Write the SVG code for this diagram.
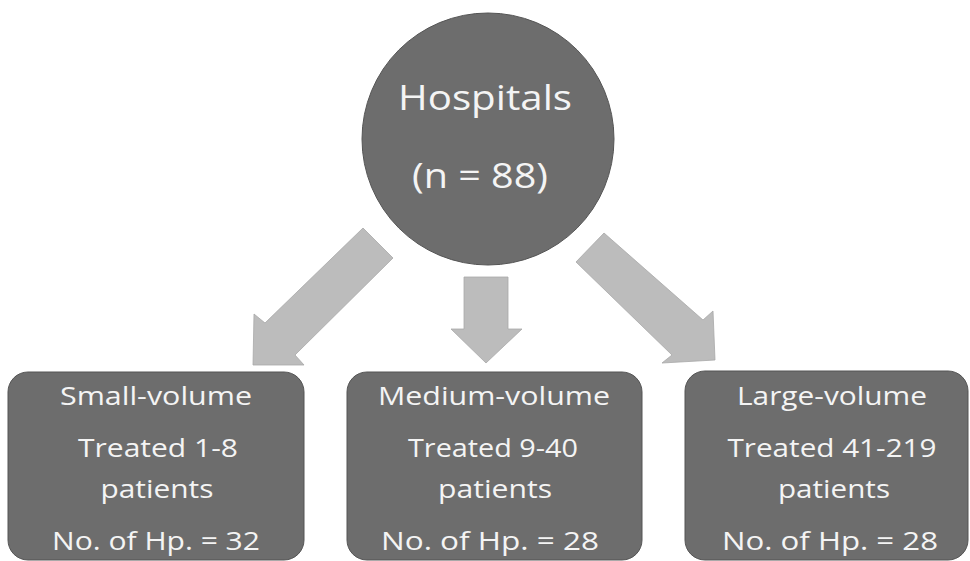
<svg xmlns="http://www.w3.org/2000/svg" width="970" height="561" viewBox="0 0 970 561">
<style>
.node{fill:#6d6d6d;stroke:#555;stroke-width:1}
.arrow{fill:#bcbcbc;stroke:#a8a8a8;stroke-width:0.8}
.t{font-family:"Open Sans","Liberation Sans",sans-serif;fill:#f4f4f4;text-anchor:middle}
.big{font-size:35px}
.sm{font-size:25px}
</style>
<rect width="970" height="561" fill="#ffffff"/>
<g id="connectors">
<polygon class="arrow" points="363,228 393,258 295,355 304,365 253,365 254,314 265,323"/>
<polygon class="arrow" points="464,277 508,277 508,329 522,329 486,363 451,329 464,329"/>
<polygon class="arrow" points="576,262 604,233 703,320 713,311 715,360 662,363 672,355"/>
</g>
<g id="hospitals">
<circle class="node" cx="488" cy="139" r="126"/>
<text class="t big" x="485" y="110" textLength="174" lengthAdjust="spacingAndGlyphs">Hospitals</text>
<text class="t big" x="480" y="188" textLength="136" lengthAdjust="spacingAndGlyphs">(n = 88)</text>
</g>
<g id="small-volume">
<rect class="node" x="8" y="372" width="296" height="188" rx="20"/>
<text class="t sm" x="156" y="405" textLength="192" lengthAdjust="spacingAndGlyphs">Small-volume</text>
<text class="t sm" x="158" y="457" textLength="160" lengthAdjust="spacingAndGlyphs">Treated 1-8</text>
<text class="t sm" x="157" y="498" textLength="113" lengthAdjust="spacingAndGlyphs">patients</text>
<text class="t sm" x="156" y="550" textLength="208" lengthAdjust="spacingAndGlyphs">No. of Hp. = 32</text>
</g>
<g id="medium-volume">
<rect class="node" x="347" y="372" width="295" height="188" rx="20"/>
<text class="t sm" x="494" y="405" textLength="232" lengthAdjust="spacingAndGlyphs">Medium-volume</text>
<text class="t sm" x="493" y="457" textLength="170" lengthAdjust="spacingAndGlyphs">Treated 9-40</text>
<text class="t sm" x="495" y="498" textLength="114" lengthAdjust="spacingAndGlyphs">patients</text>
<text class="t sm" x="490" y="550" textLength="218" lengthAdjust="spacingAndGlyphs">No. of Hp. = 28</text>
</g>
<g id="large-volume">
<rect class="node" x="685" y="371" width="283" height="189" rx="20"/>
<text class="t sm" x="832" y="405" textLength="190" lengthAdjust="spacingAndGlyphs">Large-volume</text>
<text class="t sm" x="832" y="457" textLength="209" lengthAdjust="spacingAndGlyphs">Treated 41-219</text>
<text class="t sm" x="834" y="498" textLength="112" lengthAdjust="spacingAndGlyphs">patients</text>
<text class="t sm" x="830" y="550" textLength="216" lengthAdjust="spacingAndGlyphs">No. of Hp. = 28</text>
</g>
</svg>
